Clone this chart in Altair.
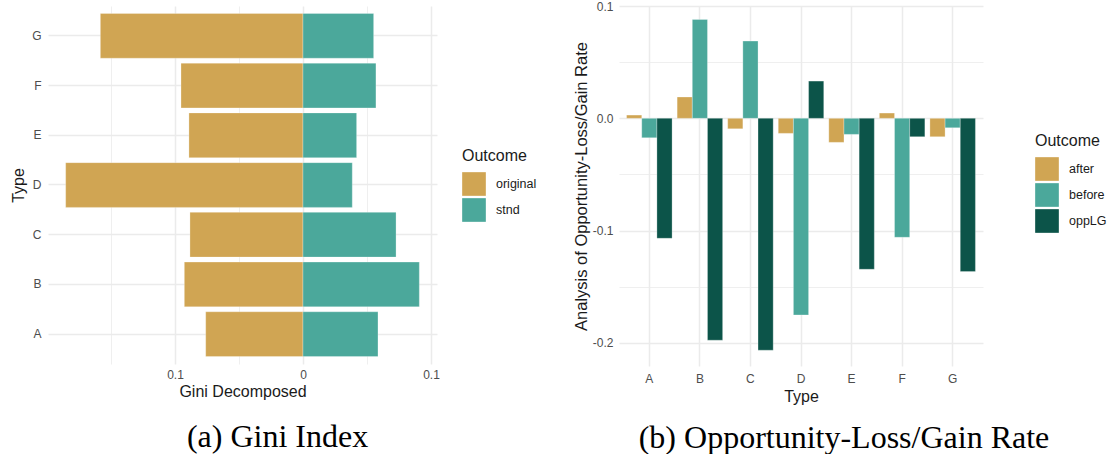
import altair as alt
import pandas as pd

# Categories and outcome groups
types = ["A", "B", "C", "D", "E", "F", "G"]

# (a) Gini decomposition: "original" drawn to the left (negative), "stnd" to the right
gini_original = [-0.0760, -0.0927, -0.0883, -0.1854, -0.0891, -0.0953, -0.1583]
gini_stnd = [0.0586, 0.0909, 0.0727, 0.0385, 0.0419, 0.0570, 0.0552]

# (b) Opportunity-loss/gain rate by outcome
opp_after = [0.0029, 0.0190, -0.0093, -0.0134, -0.0214, 0.0047, -0.0164]
opp_before = [-0.0173, 0.0881, 0.0688, -0.1752, -0.0143, -0.1060, -0.0084]
opp_lg = [-0.1069, -0.1977, -0.2066, 0.0332, -0.1345, -0.0164, -0.1366]

TAN = "#D0A553"
TEAL = "#4BA89B"
DARK = "#0C5449"

gini_df = pd.DataFrame(
    {
        "Type": types * 2,
        "Outcome": ["original"] * 7 + ["stnd"] * 7,
        "value": gini_original + gini_stnd,
    }
)
opp_df = pd.DataFrame(
    {
        "Type": types * 3,
        "Outcome": ["after"] * 7 + ["before"] * 7 + ["oppLG"] * 7,
        "value": opp_after + opp_before + opp_lg,
    }
)

MAJOR = "abs(datum.value * 10 - round(datum.value * 10)) < 0.001"
grid_width = {"condition": {"test": MAJOR, "value": 1.5}, "value": 0.8}

bar_style = dict(stroke="white", strokeWidth=0.8, strokeOpacity=0.35)

legend_common = dict(
    orient="none",
    title="Outcome",
    titleFontSize=16,
    titleFontWeight="normal",
    titleFont="Liberation Sans",
    titleColor="#1A1A1A",
    titlePadding=8,
    labelFontSize=12.5,
    labelFont="Liberation Sans",
    labelColor="#1A1A1A",
    labelOffset=10,
    symbolType="square",
    symbolSize=560,
    symbolStrokeWidth=0,
    rowPadding=2,
)

caption_common = dict(
    orient="bottom",
    font="Liberation Serif",
    fontSize=32,
    fontWeight="normal",
    color="black",
    anchor="middle",
    frame="group",
    baseline="alphabetic",
)

# ---- (a) Gini Index ----
gini = (
    alt.Chart(gini_df)
    .mark_bar(**bar_style)
    .encode(
        y=alt.Y(
            "Type:N",
            sort="descending",
            scale=alt.Scale(paddingInner=0.1, paddingOuter=0.15),
            axis=alt.Axis(
                title="Type",
                grid=True,
                bandPosition=0.5,
                labelPadding=7,
                titlePadding=5,
                gridWidth=1.5,
            ),
        ),
        x=alt.X(
            "value:Q",
            scale=alt.Scale(domain=[-0.1992, 0.1047], nice=False, zero=False),
            axis=alt.Axis(
                title="Gini Decomposed",
                values=[-0.15, -0.1, -0.05, 0, 0.05, 0.1],
                labelExpr=f"{MAJOR} ? format(abs(datum.value), '~g') : ''",
                labelOverlap=False,
                labelPadding=5,
                titlePadding=3,
                gridWidth=grid_width,
            ),
        ),
        color=alt.Color(
            "Outcome:N",
            scale=alt.Scale(domain=["original", "stnd"], range=[TAN, TEAL]),
            legend=alt.Legend(legendX=414, legendY=142, **legend_common),
        ),
    )
    .properties(
        width=389,
        height=358,
        title=alt.TitleParams("(a) Gini Index", dx=35, offset=48, **caption_common),
    )
)

# ---- (b) Opportunity-Loss/Gain Rate ----
opp = (
    alt.Chart(opp_df)
    .mark_bar(**bar_style)
    .encode(
        x=alt.X(
            "Type:N",
            scale=alt.Scale(paddingInner=0.1, paddingOuter=0.15),
            axis=alt.Axis(
                title="Type",
                grid=True,
                labelAngle=0,
                bandPosition=0.5,
                labelPadding=7,
                titlePadding=4,
                gridWidth=1.5,
            ),
        ),
        xOffset=alt.XOffset(
            "Outcome:N",
            scale=alt.Scale(paddingInner=0, paddingOuter=0),
        ),
        y=alt.Y(
            "value:Q",
            scale=alt.Scale(domain=[-0.2207, 0.1001], nice=False, zero=False),
            axis=alt.Axis(
                title="Analysis of Opportunity-Loss/Gain Rate",
                titleFontSize=16.5,
                values=[-0.2, -0.15, -0.1, -0.05, 0, 0.05, 0.1],
                labelExpr=f"{MAJOR} ? replace(format(datum.value, '.1f'), '\u2212', '-') : ''",
                labelOverlap=False,
                labelPadding=6,
                titlePadding=3,
                gridWidth=grid_width,
            ),
        ),
        color=alt.Color(
            "Outcome:N",
            scale=alt.Scale(domain=["after", "before", "oppLG"], range=[TAN, TEAL, DARK]),
            legend=alt.Legend(legendX=416, legendY=127, **legend_common),
        ),
    )
    .properties(
        width=364,
        height=360,
        title=alt.TitleParams(
            "(b) Opportunity-Loss/Gain Rate", dx=43, offset=44, **caption_common
        ),
    )
)

chart = (
    alt.hconcat(gini, opp, spacing=182, bounds="flush")
    .resolve_scale(color="independent")
    .resolve_legend(color="independent")
    .properties(padding={"left": 10, "top": 0, "right": 0, "bottom": 0})
    .configure(background="white")
    .configure_view(stroke=None)
    .configure_axis(
        domain=False,
        ticks=False,
        gridColor="#EBEBEB",
        labelFont="Liberation Sans",
        labelFontSize=12,
        labelColor="#4D4D4D",
        titleFont="Liberation Sans",
        titleFontSize=16,
        titleFontWeight="normal",
        titleColor="#1A1A1A",
    )
)

chart.save("out.html", embed_options={"renderer": "svg", "actions": False})
